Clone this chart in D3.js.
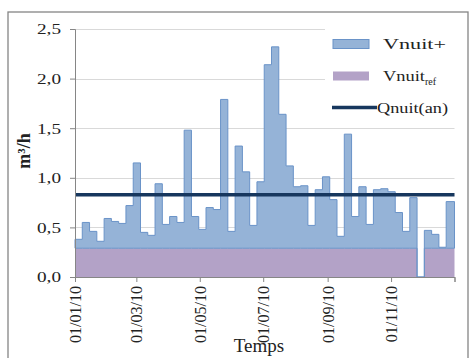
<!DOCTYPE html>
<html>
<head>
<meta charset="utf-8">
<script src="https://cdn.jsdelivr.net/npm/d3@7"></script>
<style>
  html, body { margin: 0; padding: 0; background: #fff; }
  svg { display: block; font-family: "Liberation Serif", "Times New Roman", serif; }
</style>
</head>
<body>
<svg id="chart" width="469" height="358"></svg>
<script>
// ---- data ----
const weekDates = [
  "2010-01-01","2010-01-08","2010-01-15","2010-01-22","2010-01-29",
  "2010-02-05","2010-02-12","2010-02-19","2010-02-26",
  "2010-03-05","2010-03-12","2010-03-19","2010-03-26",
  "2010-04-02","2010-04-09","2010-04-16","2010-04-23","2010-04-30",
  "2010-05-07","2010-05-14","2010-05-21","2010-05-28",
  "2010-06-04","2010-06-11","2010-06-18","2010-06-25",
  "2010-07-02","2010-07-09","2010-07-16","2010-07-23","2010-07-30",
  "2010-08-06","2010-08-13","2010-08-20","2010-08-27",
  "2010-09-03","2010-09-10","2010-09-17","2010-09-24",
  "2010-10-01","2010-10-08","2010-10-15","2010-10-22","2010-10-29",
  "2010-11-05","2010-11-12","2010-11-19","2010-11-26",
  "2010-12-03","2010-12-10","2010-12-17","2010-12-24"
];
const endDate = "2011-01-01";
// Vnuit+ (total night volume, m3/h)
const vnuitPlus = [
  0.38,0.55,0.46,0.36,0.59,
  0.56,0.54,0.72,1.15,
  0.45,0.42,0.94,0.53,
  0.61,0.55,1.48,0.61,0.48,
  0.70,0.68,1.79,0.46,
  1.32,1.06,0.52,0.96,
  2.14,2.32,1.64,1.12,0.91,
  0.92,0.52,0.88,1.01,
  0.78,0.41,1.44,0.61,
  0.91,0.53,0.88,0.89,0.86,
  0.65,0.46,0.80,0.00,
  0.47,0.43,0.30,0.76
];
// Vnuit ref
const vnuitRef = [
  0.29,0.29,0.29,0.29,0.29,
  0.29,0.29,0.29,0.29,
  0.29,0.29,0.29,0.29,
  0.29,0.29,0.29,0.29,0.29,
  0.29,0.29,0.29,0.29,
  0.29,0.29,0.29,0.29,
  0.29,0.29,0.29,0.29,0.29,
  0.29,0.29,0.29,0.29,
  0.29,0.29,0.29,0.29,
  0.29,0.29,0.29,0.29,0.29,
  0.29,0.29,0.29,0.00,
  0.29,0.29,0.29,0.29
];
const qnuitAn = 0.83;
const yTicks = [0, 0.5, 1.0, 1.5, 2.0, 2.5];
const xTickDates = ["2010-01-01","2010-03-01","2010-05-01","2010-07-01","2010-09-01","2010-11-01","2011-01-01"];
const xTickLabels = ["01/01/10","01/03/10","01/05/10","01/07/10","01/09/10","01/11/10",""];
const legendLabels = ["Vnuit+", "Vnuit", "ref", "Qnuit(an)"];
const yTitle = "m\u00B3/h";
const xTitle = "Temps";

// ---- layout ----
const parse = d3.timeParse("%Y-%m-%d");
const svg = d3.select("#chart");
const pLeft = 75, pRight = 454.5, pTop = 29, pBottom = 277;

const x = d3.scaleTime().domain([parse(weekDates[0]), parse(endDate)]).range([pLeft, pRight]);
const y = d3.scaleLinear().domain([0, 2.5]).range([pBottom, pTop]);

// frame
svg.append("rect").attr("x", 8).attr("y", 12).attr("width", 460).attr("height", 360)
  .attr("fill", "#fff").attr("stroke", "#858585").attr("stroke-width", 1.3);

// gridlines
svg.append("g").selectAll("line").data(yTicks.filter(d => d > 0)).join("line")
  .attr("x1", pLeft).attr("x2", pRight)
  .attr("y1", d => Math.round(y(d)) + 0.5).attr("y2", d => Math.round(y(d)) + 0.5)
  .attr("stroke", "#d9d9d9").attr("stroke-width", 1);

// data points (step series with end point)
const pts = weekDates.map((d, i) => ({ date: parse(d), tot: Math.max(vnuitPlus[i], vnuitRef[i]), ref: vnuitRef[i] }));
pts.push({ date: parse(endDate), tot: pts[pts.length - 1].tot, ref: pts[pts.length - 1].ref });

// Vnuit ref area
const refArea = d3.area().curve(d3.curveStepAfter)
  .x(d => x(d.date)).y0(y(0)).y1(d => y(d.ref));
svg.append("path").datum(pts).attr("d", refArea).attr("fill", "#b3a2c7");

// Vnuit+ area (stacked above ref)
const plusArea = d3.area().curve(d3.curveStepAfter)
  .x(d => x(d.date)).y0(d => y(d.ref)).y1(d => y(d.tot));
svg.append("path").datum(pts).attr("d", plusArea)
  .attr("fill", "#95b3d7").attr("stroke", "#6a93c8").attr("stroke-width", 1);

// Qnuit(an) line
svg.append("line").attr("x1", pLeft).attr("x2", pRight)
  .attr("y1", y(qnuitAn)).attr("y2", y(qnuitAn))
  .attr("stroke", "#17375e").attr("stroke-width", 3.5);

// axes
const yAxis = d3.axisLeft(y).tickValues(yTicks).tickSize(5).tickPadding(9)
  .tickFormat(d => d3.format(".1f")(d).replace(".", ","));
const gy = svg.append("g").attr("transform", `translate(${pLeft},0)`).call(yAxis);
gy.select(".domain").attr("stroke", "#868686");
gy.selectAll(".tick line").attr("stroke", "#868686");
gy.selectAll(".tick text").attr("font-size", 15).attr("fill", "#222")
  .attr("font-family", "Liberation Serif").attr("textLength", 24).attr("lengthAdjust", "spacingAndGlyphs");

const xAxis = d3.axisBottom(x).tickValues(xTickDates.map(parse)).tickSize(5)
  .tickFormat((d, i) => xTickLabels[i]);
const gx = svg.append("g").attr("transform", `translate(0,${pBottom})`).call(xAxis);
gx.select(".domain").attr("stroke", "#868686");
gx.selectAll(".tick line").attr("stroke", "#868686");
gx.selectAll(".tick text").attr("font-size", 16).attr("fill", "#222")
  .attr("font-family", "Liberation Serif")
  .attr("transform", "rotate(-90)").attr("text-anchor", "end")
  .attr("x", -9).attr("y", 0).attr("dy", "0.35em");

// axis titles
svg.append("text").attr("transform", "translate(30,151) rotate(-90)")
  .attr("text-anchor", "middle").attr("font-size", 18).attr("font-weight", "bold")
  .attr("fill", "#222").text(yTitle);
svg.append("text").attr("x", 259).attr("y", 352).attr("text-anchor", "middle")
  .attr("font-size", 19).attr("fill", "#222").text(xTitle);

// legend
const lg = svg.append("g");
lg.append("rect").attr("x", 325).attr("y", 14).attr("width", 142).attr("height", 103).attr("fill", "#fff");
lg.append("rect").attr("x", 333).attr("y", 39.5).attr("width", 36).attr("height", 9)
  .attr("fill", "#95b3d7").attr("stroke", "#6a93c8").attr("stroke-width", 1);
lg.append("text").attr("x", 383).attr("y", 49).attr("font-size", 15).attr("fill", "#222")
  .attr("textLength", 63).attr("lengthAdjust", "spacingAndGlyphs").text(legendLabels[0]);
lg.append("rect").attr("x", 333).attr("y", 71.5).attr("width", 36).attr("height", 9)
  .attr("fill", "#b3a2c7");
const t2 = lg.append("text").attr("x", 383).attr("y", 81).attr("font-size", 15).attr("fill", "#222");
t2.append("tspan").attr("textLength", 42).attr("lengthAdjust", "spacingAndGlyphs").text(legendLabels[1]);
t2.append("tspan").attr("font-size", 10).attr("dy", 4).text(legendLabels[2]);
lg.append("line").attr("x1", 332).attr("x2", 377).attr("y1", 107.5).attr("y2", 107.5)
  .attr("stroke", "#17375e").attr("stroke-width", 3.5);
lg.append("text").attr("x", 377).attr("y", 113).attr("font-size", 15).attr("fill", "#222")
  .attr("textLength", 71).attr("lengthAdjust", "spacingAndGlyphs").text(legendLabels[3]);
</script>
</body>
</html>
